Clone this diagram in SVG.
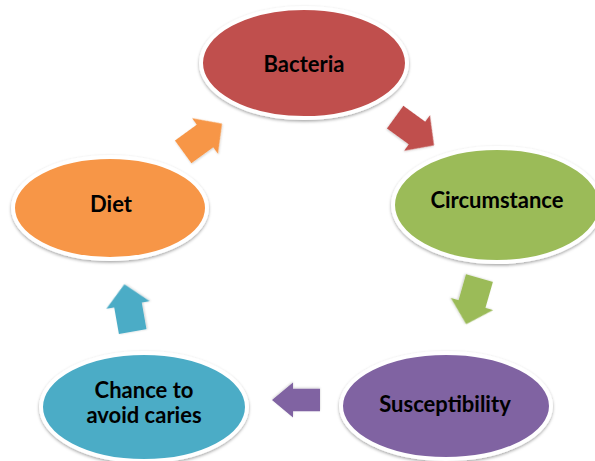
<svg xmlns="http://www.w3.org/2000/svg" width="595" height="461" viewBox="0 0 595 461">
<defs>
<filter id="sh" x="-10%" y="-10%" width="120%" height="130%">
<feDropShadow dx="0" dy="1.5" stdDeviation="1.6" flood-color="#000" flood-opacity="0.35"/>
</filter>
<filter id="ash" x="-20%" y="-20%" width="140%" height="140%">
<feDropShadow dx="0" dy="1" stdDeviation="1" flood-color="#000" flood-opacity="0.2"/>
</filter>
<path id="arr" d="M0,-14 L-27,-14 L-27,14 L0,14 L0,22 L21,0 L0,-22 Z"/>
</defs>
<style>
.n{stroke:#fff;stroke-width:4;filter:url(#sh)}
.t{font-family:Lato,"Open Sans","Liberation Sans",sans-serif;font-weight:bold;font-size:22px;fill:#000;text-anchor:middle}
.a{filter:url(#ash)}
</style>
<rect width="595" height="461" fill="#fff"/>
<g id="connectors">
<use href="#arr" class="a" fill="#F79646" transform="translate(205,136) rotate(-36)"/>
<use href="#arr" class="a" fill="#C0504D" transform="translate(417,133) rotate(36)"/>
<use href="#arr" class="a" fill="#9BBB59" transform="translate(472,304) rotate(106)"/>
<use href="#arr" class="a" fill="#8064A2" transform="translate(293,400) rotate(180) scale(1,0.8)"/>
<use href="#arr" class="a" fill="#4BACC6" transform="translate(128,305) rotate(-100)"/>
</g>
<g id="bacteria">
<ellipse class="n" cx="304" cy="63" rx="103" ry="55" fill="#C0504D"/>
<text class="t" x="304" y="72">Bacteria</text>
</g>
<g id="circumstance">
<ellipse class="n" cx="497" cy="205" rx="104" ry="57" fill="#9BBB59"/>
<text class="t" x="497" y="208">Circumstance</text>
</g>
<g id="susceptibility">
<ellipse class="n" cx="446" cy="406" rx="105" ry="53" fill="#8064A2"/>
<text class="t" x="445" y="412">Susceptibility</text>
</g>
<g id="chance">
<ellipse class="n" cx="144" cy="407" rx="103" ry="54" fill="#4BACC6"/>
<text class="t" x="144" y="398">Chance to</text>
<text class="t" x="144" y="423">avoid caries</text>
</g>
<g id="diet">
<ellipse class="n" cx="110" cy="208" rx="97" ry="51" fill="#F79646"/>
<text class="t" x="111" y="212">Diet</text>
</g>
</svg>
